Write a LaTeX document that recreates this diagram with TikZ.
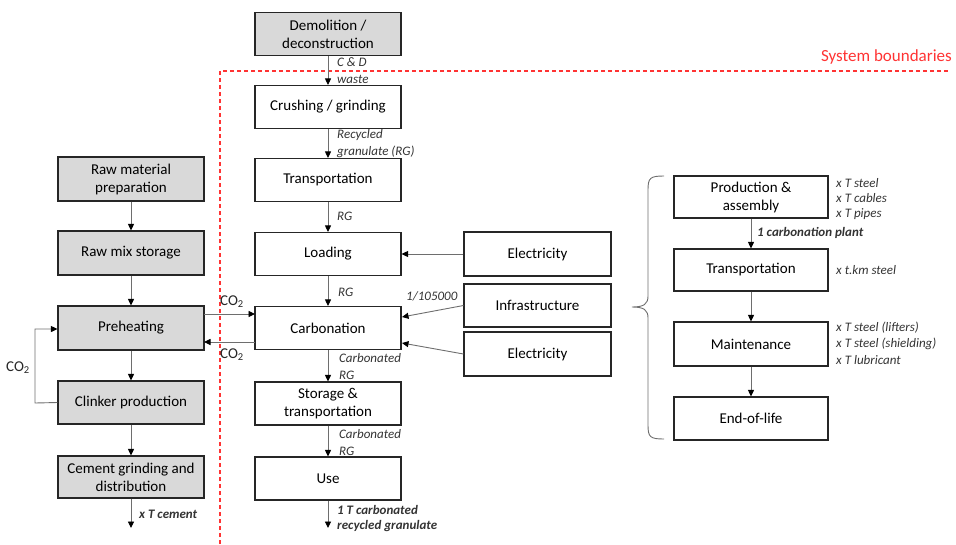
\documentclass[tikz,border=0pt]{standalone}
\usepackage{fontspec}
\setmainfont{Carlito}
\usetikzlibrary{arrows.meta,decorations.pathreplacing}
\definecolor{boxgray}{HTML}{D9D9D9}
\definecolor{linegray}{HTML}{6E6E6E}
\definecolor{bred}{HTML}{FF3333}
\tikzset{
  base/.style={draw=black!85, line width=1.1pt, align=center, font=\fontsize{15}{18}\selectfont, inner sep=1pt},
  gbox/.style={base, fill=boxgray, minimum width=146pt, minimum height=44pt},
  wbox/.style={base, fill=white, minimum width=146pt, minimum height=43pt},
  rbox/.style={base, fill=white, minimum width=154pt, minimum height=43pt},
  ebox/.style={base, fill=white, minimum width=147pt, minimum height=44pt},
  arr/.style={draw=linegray, line width=0.9pt, -{Triangle[length=6.5pt,width=6pt,color=black]}},
  lab/.style={font=\fontsize{13}{15}\selectfont\itshape, text=black!80, align=left, inner sep=0pt, anchor=west},
  blab/.style={lab, font=\fontsize{13}{15}\selectfont\itshape\bfseries},
  co/.style={font=\fontsize{15}{17}\selectfont, inner sep=0pt, text=black!85},
}
\begin{document}
\begin{tikzpicture}[x=1pt,y=-1pt]
\useasboundingbox (0,0) rectangle (956,544);
% system boundary
\draw[bred, line width=1.3pt, dash pattern=on 4pt off 3pt] (220,544) -- (220,71) -- (950,71);
\node[text=bred, font=\fontsize{17}{19}\selectfont, anchor=east, inner sep=0pt] (sb) at (952,57) {System boundaries};

% middle column
\node[gbox, minimum height=43pt] (dem) at (328,34) {Demolition /\\deconstruction};
\node[wbox] (cru) at (328,107) {Crushing / grinding};
\node[wbox] (tra) at (328,180) {Transportation};
\node[wbox] (loa) at (328,254) {Loading};
\node[wbox] (car) at (328,328) {Carbonation};
\node[wbox] (sto) at (328,403.5) {Storage \&\\transportation};
\node[wbox] (use) at (328,478.5) {Use};
\coordinate (useend) at (328,528);

\draw[arr] (dem) -- (cru);
\draw[arr] (cru) -- (tra);
\draw[arr] (tra) -- (loa);
\draw[arr] (loa) -- (car);
\draw[arr] (car) -- (sto);
\draw[arr] (sto) -- (use);
\draw[arr] (use) -- (useend);

\node[lab] (l1) at (337,62) {C \& D};
\node[lab] (l2) at (337,79) {waste};
\node[lab] (l3) at (337,135) {Recycled};
\node[lab] (l4) at (337,152) {granulate (RG)};
\node[lab] (l5) at (337,216) {RG};
\node[lab] (l6) at (338,292) {RG};
\node[lab] (l7) at (339,358) {Carbonated};
\node[lab] (l8) at (339,375) {RG};
\node[lab] (l9) at (339,434) {Carbonated};
\node[lab] (l10) at (339,451) {RG};
\node[blab] (l11) at (337,510) {1 T carbonated};
\node[blab] (l12) at (337,526) {recycled granulate};

% inputs to middle column
\node[ebox] (el1) at (537.5,254) {Electricity};
\node[ebox, minimum height=43pt] (inf) at (537.5,305.5) {Infrastructure};
\node[ebox] (el2) at (537.5,354) {Electricity};
\draw[arr] (el1.west) -- (loa.east);
\draw[arr] (inf.west) -- (402,317);
\draw[arr] (el2.west) -- (402,343);
\node[lab] (l13) at (406,296) {1/105000};

% left column
\node[gbox] (raw) at (131,179) {Raw material\\preparation};
\node[gbox] (mix) at (131,253) {Raw mix storage};
\node[gbox] (pre) at (131,328) {Preheating};
\node[gbox, minimum height=43pt] (cli) at (131,402.5) {Clinker production};
\node[gbox, minimum height=42pt] (cem) at (131,477) {Cement grinding and\\distribution};
\coordinate (cemend) at (131,528);
\draw[arr] (raw) -- (mix);
\draw[arr] (mix) -- (pre);
\draw[arr] (pre) -- (cli);
\draw[arr] (cli) -- (cem);
\draw[arr] (cem) -- (cemend);
\node[blab] (l14) at (139,514) {x T cement};

% CO2 loop
\draw[arr] (cli.west) -- (35,403) -- (35,329) -- (pre.west |- 0,329);
\node[co] (c1) at (18,368) {CO\textsubscript{2}};

% CO2 exchange
\draw[arr] (204,314) -- (255,314);
\draw[arr] (255,342) -- (204,342);
\node[co] (c2) at (232,302) {CO\textsubscript{2}};
\node[co] (c3) at (232,355) {CO\textsubscript{2}};

% right column
\node[rbox, minimum height=42pt] (pro) at (751,197) {Production \&\\assembly};
\node[rbox, minimum height=42pt] (rtr) at (751,270) {Transportation};
\node[rbox, minimum height=44pt] (mai) at (751,344) {Maintenance};
\node[rbox, minimum height=43pt] (eol) at (751,418.5) {End-of-life};
\draw[arr] (pro) -- (rtr);
\draw[arr] (rtr) -- (mai);
\draw[arr] (mai) -- (eol);
\node[blab] (l15) at (757,233) {1 carbonation plant};
\node[lab] (r1) at (836,183) {x T steel};
\node[lab] (r2) at (836,198) {x T cables};
\node[lab] (r3) at (836,214) {x T pipes};
\node[lab] (r4) at (836,270) {x t.km steel};
\node[lab] (r5) at (836,328) {x T steel (lifters)};
\node[lab] (r6) at (836,344) {x T steel (shielding)};
\node[lab] (r7) at (836,360) {x T lubricant};

% brace
\draw[linegray, line width=0.9pt] (664,176) .. controls (650,176) and (648,178) .. (648,190) -- (648,296) .. controls (648,304) and (644,307) .. (632,307) .. controls (644,307) and (648,310) .. (648,318) -- (648,425) .. controls (648,437) and (650,439) .. (664,439);
\end{tikzpicture}
\end{document}
